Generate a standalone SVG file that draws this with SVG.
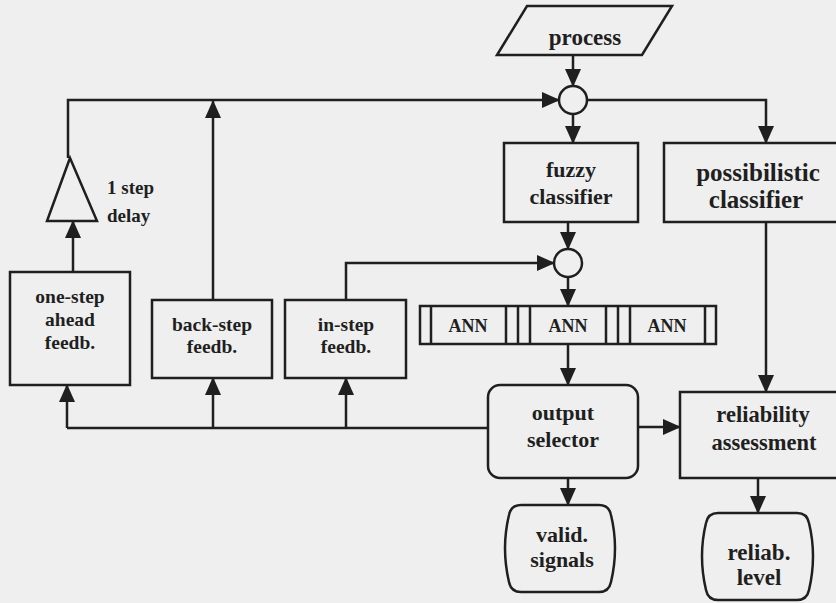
<svg xmlns="http://www.w3.org/2000/svg" width="836" height="603" viewBox="0 0 836 603">
  <style>
    .shape { fill: none; stroke: #1f1f1f; stroke-width: 2.5; stroke-linejoin: miter; }
    .wire { fill: none; stroke: #1f1f1f; stroke-width: 2.5; }
    .arr { marker-end: url(#head); }
    text { font-family: "Liberation Serif", "Times New Roman", serif; font-weight: bold; fill: #1f1f1f; text-anchor: middle; }
  </style>
  <defs>
    <marker id="head" markerUnits="userSpaceOnUse" markerWidth="18" markerHeight="16" refX="17" refY="8" orient="auto">
      <path d="M0,0 L18,8 L0,16 Z" fill="#1f1f1f"/>
    </marker>
  </defs>

  <rect x="0" y="0" width="836" height="603" fill="#efefef"/>

  <!-- connectors -->
  <g id="connectors">
    <path class="wire arr" d="M573,55 V86"/>
    <path class="wire arr" d="M573,114 V143"/>
    <path class="wire arr" d="M587,100 H766 V143"/>
    <path class="wire arr" d="M68,158 V100 H559"/>
    <path class="wire arr" d="M213,300 V101"/>
    <path class="wire arr" d="M73,272 V221"/>
    <path class="wire arr" d="M568,222 V249"/>
    <path class="wire arr" d="M346,300 V263 H554"/>
    <path class="wire arr" d="M568,277 V306"/>
    <path class="wire arr" d="M568,344 V385"/>
    <path class="wire arr" d="M638,427 H680"/>
    <path class="wire arr" d="M766,222 V392"/>
    <path class="wire" d="M488,428 H67"/>
    <path class="wire arr" d="M67,428 V385"/>
    <path class="wire arr" d="M213,428 V378"/>
    <path class="wire arr" d="M346,428 V378"/>
    <path class="wire arr" d="M568,478 V505"/>
    <path class="wire arr" d="M758,478 V513"/>
  </g>

  <g id="process">
    <polygon class="shape" points="527,6 672,6 642,55 497,55"/>
    <text x="585" y="45" font-size="23">process</text>
  </g>

  <g id="sum-top">
    <circle class="shape" cx="573" cy="100" r="14"/>
  </g>

  <g id="fuzzy-classifier">
    <rect class="shape" x="504" y="143" width="134" height="79"/>
    <text x="571" y="177" font-size="22">fuzzy</text>
    <text x="571" y="204" font-size="22">classifier</text>
  </g>

  <g id="possibilistic-classifier">
    <rect class="shape" x="664" y="143" width="190" height="79"/>
    <text x="758" y="181" font-size="25">possibilistic</text>
    <text x="756" y="208" font-size="25">classifier</text>
  </g>

  <g id="sum-bottom">
    <circle class="shape" cx="568" cy="263" r="14"/>
  </g>

  <g id="delay">
    <polygon class="shape" points="70,158 97,221 47,221"/>
    <text x="107" y="194" font-size="19" style="text-anchor:start">1 step</text>
    <text x="107" y="222" font-size="19" style="text-anchor:start">delay</text>
  </g>

  <g id="one-step-ahead-feedb">
    <rect class="shape" x="10" y="272" width="120" height="113"/>
    <text x="70" y="303" font-size="19.5">one-step</text>
    <text x="70" y="326" font-size="19.5">ahead</text>
    <text x="70" y="349" font-size="19.5">feedb.</text>
  </g>

  <g id="back-step-feedb">
    <rect class="shape" x="152" y="300" width="120" height="78"/>
    <text x="212" y="331" font-size="19.5">back-step</text>
    <text x="212" y="353" font-size="19.5">feedb.</text>
  </g>

  <g id="in-step-feedb">
    <rect class="shape" x="285" y="300" width="121" height="78"/>
    <text x="346" y="331" font-size="19.5">in-step</text>
    <text x="346" y="353" font-size="19.5">feedb.</text>
  </g>

  <g id="ann-bank">
    <rect class="shape" x="420" y="306" width="296" height="38"/>
    <path class="wire" d="M431,306 V344 M506,306 V344 M518,306 V344 M530,306 V344 M606,306 V344 M618,306 V344 M630,306 V344 M705,306 V344"/>
    <text x="468" y="332" font-size="18">ANN</text>
    <text x="568" y="332" font-size="18">ANN</text>
    <text x="667" y="332" font-size="18">ANN</text>
  </g>

  <g id="output-selector">
    <rect class="shape" x="488" y="385" width="150" height="93" rx="12"/>
    <text x="563" y="420" font-size="22">output</text>
    <text x="563" y="447" font-size="22">selector</text>
  </g>

  <g id="reliability-assessment">
    <rect class="shape" x="680" y="392" width="175" height="86"/>
    <text x="763" y="422" font-size="22.5">reliability</text>
    <text x="764" y="450" font-size="22.5">assessment</text>
  </g>

  <g id="valid-signals">
    <path class="shape" d="M521,505 H599 Q609,505 611,515 Q619,548 611,582 Q609,592 599,592 H521 Q511,592 509,582 Q501,548 509,515 Q511,505 521,505 Z"/>
    <text x="562" y="542" font-size="22">valid.</text>
    <text x="562" y="567" font-size="22">signals</text>
  </g>

  <g id="reliab-level">
    <path class="shape" d="M718,513 H797 Q807,513 809,523 Q817,556 809,590 Q807,600 797,600 H718 Q708,600 706,590 Q698,556 706,523 Q708,513 718,513 Z"/>
    <text x="759" y="560" font-size="23">reliab.</text>
    <text x="759" y="585" font-size="23">level</text>
  </g>
</svg>
